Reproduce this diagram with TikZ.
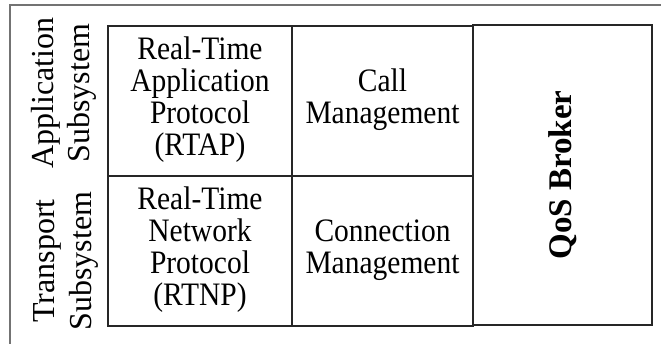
\documentclass[tikz,border=0pt]{standalone}
\usepackage{fontspec}
\setmainfont{Liberation Serif}
% centred stack of lines, stretched vertically
\newcommand{\tallstack}[1]{\scalebox{1}[1.11]{\begin{tabular}{@{}c@{}}#1\end{tabular}}}
\begin{document}
\begin{tikzpicture}[x=1pt,y=-1pt,
  cell/.style={draw=black!85, line width=1.6pt, inner sep=0pt, outer sep=0pt,
    align=center, font=\fontsize{29.5}{28.5}\selectfont},
  sidelabel/.style={inner sep=0pt, rotate=90, align=center,
    font=\fontsize{32}{36.5}\selectfont},
  frameline/.style={draw=black!55, line width=1.8pt}]
  \useasboundingbox (0,0) rectangle (661,344);
  % open outer frame: only the top and left edges
  \coordinate (fbl) at (10,344);
  \coordinate (ftl) at (10,5);
  \coordinate (ftr) at (661,5);
  \draw[frameline] (fbl) -- (ftl) -- (ftr);
  % protocol and management cells
  \node[cell, minimum width=184pt, minimum height=150pt] (rtap) at (200,101)
    {\tallstack{Real-Time\\Application\\Protocol\\(RTAP)}};
  \node[cell, minimum width=181pt, minimum height=150pt] (callm) at (382.5,101)
    {\tallstack{Call\\Management}};
  \node[cell, minimum width=184pt, minimum height=150pt] (rtnp) at (200,251)
    {\tallstack{Real-Time\\Network\\Protocol\\(RTNP)}};
  \node[cell, minimum width=181pt, minimum height=150pt] (connm) at (382.5,251)
    {\tallstack{Connection\\Management}};
  % broker column spanning both rows
  \node[cell, minimum width=179pt, minimum height=300pt] (qos) at (562.5,175)
    {\rotatebox{90}{\fontsize{33}{33}\selectfont\bfseries QoS Broker}};
  % subsystem labels
  \node[sidelabel] (appsub) at (64,93) {Application\\Subsystem};
  \node[sidelabel] (transub) at (66,261) {Transport\\Subsystem};
\end{tikzpicture}
\end{document}
